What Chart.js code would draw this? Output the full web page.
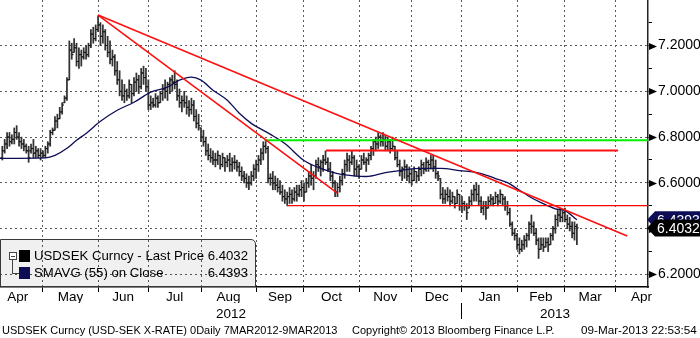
<!DOCTYPE html>
<html>
<head>
<meta charset="utf-8">
<script src="https://cdn.jsdelivr.net/npm/chart.js@4.4.0/dist/chart.umd.min.js"></script>
<style>
  body { margin: 0; background: #fff; }
  #wrap { position: relative; width: 700px; height: 338px; overflow: hidden;
          font-family: 'Liberation Sans', Arial, sans-serif; color: #000; }
  #chart { position: absolute; left: 0; top: 0; }
  #legendBox { position: absolute; left: 0; top: 239px; width: 254px; height: 46px;
               border: 1.5px solid #3a3a3a; border-left-width: 1px; border-top-right-radius: 5px;
               background: rgba(0, 0, 0, 0.06); }
  #legendBox .sq { position: absolute; left: 18px; width: 11px; height: 12px; }
  #legendBox .name { position: absolute; left: 33px; font-size: 13.2px; line-height: 16px; white-space: nowrap; }
  #legendBox .val { position: absolute; right: 7px; font-size: 13.2px; line-height: 16px; }
  #tree { position: absolute; left: 8px; top: 12px; width: 6px; height: 6px; border: 1px solid #444; background: #fff; }
  #tree:after { content: ''; position: absolute; left: 1px; top: 2.5px; width: 4px; height: 1px; background: #444; }
  #treeLine { position: absolute; left: 11px; top: 20px; width: 6px; height: 13px;
              border-left: 1px solid #444; border-bottom: 1px solid #444; }
  #footer span { position: absolute; top: 322px; font-size: 11px; line-height: 16px; white-space: nowrap; }
</style>
</head>
<body>
<div id="wrap">
  <canvas id="chart" width="700" height="338"></canvas>
  <div id="legendBox">
    <div id="tree"></div>
    <div id="treeLine"></div>
  </div>
  <div id="footer">
    <span style="left:2px">USDSEK Curncy (USD-SEK X-RATE) 0Daily 7MAR2012-9MAR2013</span>
    <span style="left:352px">Copyright© 2013 Bloomberg Finance L.P.</span>
    <span style="left:581px;font-size:11.7px">09-Mar-2013 22:53:54</span>
  </div>
</div>
<script>
// Daily USDSEK bars. Day numbers count trading days from Mon 2 Apr 2012 (= 0)
const firstDay = 4;

const opens = [
    6.71, 6.74, 6.77, 6.80, 6.78, 6.79, 6.82, 6.80, 6.78, 6.77,
    6.76, 6.74, 6.74, 6.75, 6.73, 6.74, 6.72, 6.73, 6.72, 6.75,
    6.77, 6.82, 6.83, 6.87, 6.88, 6.91, 6.95, 6.97, 7.05, 7.18,
    7.17, 7.19, 7.13, 7.16, 7.15, 7.17, 7.16, 7.20, 7.25, 7.23,
    7.27, 7.29, 7.24, 7.26, 7.20, 7.17, 7.14, 7.15, 7.09, 7.05,
    7.00, 6.98, 7.00, 6.98, 7.03, 6.99, 7.04, 7.05, 7.02, 7.08,
    7.06, 7.02, 6.94, 6.95, 6.94, 6.97, 6.95, 6.99, 7.01, 7.00,
    7.03, 7.05, 7.04, 7.03, 6.98, 6.95, 6.96, 6.95, 6.93, 6.92,
    6.94, 6.89, 6.86, 6.84, 6.80, 6.78, 6.74, 6.72, 6.71, 6.70,
    6.70, 6.72, 6.68, 6.71, 6.69, 6.70, 6.68, 6.69, 6.69, 6.67,
    6.65, 6.63, 6.62, 6.60, 6.60, 6.63, 6.66, 6.68, 6.70, 6.73,
    6.76, 6.75, 6.62, 6.62, 6.60, 6.59, 6.58, 6.56, 6.54, 6.53,
    6.54, 6.55, 6.53, 6.56, 6.55, 6.57, 6.58, 6.56, 6.60, 6.63,
    6.62, 6.63, 6.68, 6.67, 6.69, 6.70, 6.69, 6.66, 6.63, 6.60,
    6.56, 6.58, 6.61, 6.64, 6.68, 6.70, 6.69, 6.71, 6.66, 6.67,
    6.66, 6.70, 6.69, 6.70, 6.72, 6.75, 6.78, 6.77, 6.80, 6.78,
    6.79, 6.76, 6.78, 6.75, 6.76, 6.71, 6.68, 6.65, 6.66, 6.67,
    6.63, 6.64, 6.61, 6.65, 6.63, 6.66, 6.68, 6.66, 6.69, 6.68,
    6.70, 6.67, 6.64, 6.62, 6.55, 6.53, 6.55, 6.54, 6.52, 6.54,
    6.51, 6.55, 6.50, 6.51, 6.50, 6.49, 6.52, 6.55, 6.57, 6.55,
    6.52, 6.49, 6.50, 6.49, 6.52, 6.53, 6.51, 6.54, 6.52, 6.55,
    6.53, 6.50, 6.47, 6.42, 6.38, 6.37, 6.33, 6.31, 6.33, 6.35,
    6.37, 6.42, 6.41, 6.38, 6.35, 6.31, 6.33, 6.32, 6.34, 6.33,
    6.37, 6.40, 6.44, 6.46, 6.45, 6.47, 6.44, 6.42, 6.41, 6.38,
    6.41
];
const highs = [
    6.76, 6.79, 6.82, 6.82, 6.81, 6.84, 6.85, 6.82, 6.80, 6.79,
    6.77, 6.76, 6.77, 6.79, 6.76, 6.75, 6.75, 6.74, 6.76, 6.78,
    6.83, 6.84, 6.89, 6.90, 6.93, 6.95, 6.98, 7.06, 7.22, 7.21,
    7.23, 7.21, 7.19, 7.18, 7.19, 7.20, 7.21, 7.27, 7.28, 7.29,
    7.33, 7.30, 7.29, 7.27, 7.24, 7.22, 7.18, 7.16, 7.13, 7.09,
    7.05, 7.03, 7.01, 7.05, 7.03, 7.06, 7.08, 7.07, 7.10, 7.11,
    7.10, 7.05, 6.98, 6.97, 6.99, 6.98, 7.00, 7.03, 7.05, 7.04,
    7.06, 7.07, 7.09, 7.05, 7.01, 6.98, 7.00, 6.98, 6.96, 6.97,
    6.96, 6.92, 6.90, 6.84, 6.83, 6.80, 6.77, 6.75, 6.74, 6.73,
    6.74, 6.72, 6.73, 6.71, 6.72, 6.73, 6.71, 6.72, 6.70, 6.69,
    6.67, 6.65, 6.64, 6.63, 6.65, 6.68, 6.70, 6.72, 6.75, 6.78,
    6.79, 6.76, 6.64, 6.65, 6.63, 6.62, 6.61, 6.59, 6.57, 6.56,
    6.58, 6.57, 6.58, 6.59, 6.59, 6.61, 6.60, 6.62, 6.65, 6.68,
    6.65, 6.70, 6.71, 6.70, 6.72, 6.74, 6.71, 6.69, 6.65, 6.61,
    6.60, 6.63, 6.66, 6.70, 6.73, 6.72, 6.74, 6.72, 6.70, 6.68,
    6.72, 6.73, 6.71, 6.73, 6.76, 6.79, 6.80, 6.82, 6.81, 6.82,
    6.81, 6.80, 6.79, 6.80, 6.76, 6.74, 6.70, 6.67, 6.70, 6.68,
    6.67, 6.66, 6.67, 6.65, 6.67, 6.70, 6.69, 6.71, 6.70, 6.72,
    6.72, 6.70, 6.65, 6.62, 6.58, 6.57, 6.58, 6.57, 6.56, 6.54,
    6.57, 6.55, 6.54, 6.52, 6.51, 6.54, 6.57, 6.59, 6.60, 6.59,
    6.54, 6.52, 6.52, 6.54, 6.55, 6.54, 6.56, 6.55, 6.57, 6.55,
    6.54, 6.52, 6.49, 6.43, 6.40, 6.38, 6.36, 6.35, 6.37, 6.38,
    6.43, 6.46, 6.43, 6.40, 6.36, 6.36, 6.36, 6.36, 6.36, 6.38,
    6.41, 6.46, 6.48, 6.49, 6.48, 6.49, 6.46, 6.45, 6.43, 6.43,
    6.42
];
const lows = [
    6.70, 6.73, 6.75, 6.76, 6.77, 6.77, 6.79, 6.76, 6.75, 6.74,
    6.73, 6.69, 6.73, 6.71, 6.71, 6.71, 6.70, 6.71, 6.71, 6.73,
    6.76, 6.81, 6.83, 6.84, 6.88, 6.90, 6.95, 6.96, 7.05, 7.14,
    7.17, 7.11, 7.10, 7.11, 7.14, 7.14, 7.15, 7.19, 7.21, 7.22,
    7.26, 7.20, 7.21, 7.18, 7.15, 7.12, 7.11, 7.07, 7.03, 6.98,
    6.96, 6.95, 6.96, 6.97, 6.95, 6.98, 7.00, 6.99, 7.01, 7.03,
    7.00, 6.92, 6.92, 6.93, 6.93, 6.93, 6.95, 6.96, 6.97, 6.96,
    6.99, 7.00, 7.01, 6.96, 6.93, 6.91, 6.93, 6.90, 6.89, 6.90,
    6.87, 6.84, 6.83, 6.78, 6.76, 6.72, 6.70, 6.69, 6.68, 6.67,
    6.68, 6.66, 6.67, 6.65, 6.67, 6.65, 6.65, 6.66, 6.65, 6.63,
    6.61, 6.60, 6.58, 6.57, 6.59, 6.61, 6.62, 6.65, 6.68, 6.70,
    6.73, 6.60, 6.59, 6.57, 6.57, 6.56, 6.55, 6.52, 6.51, 6.50,
    6.51, 6.51, 6.52, 6.52, 6.54, 6.54, 6.52, 6.56, 6.58, 6.59,
    6.57, 6.62, 6.65, 6.63, 6.65, 6.68, 6.65, 6.61, 6.58, 6.54,
    6.54, 6.56, 6.59, 6.62, 6.65, 6.65, 6.68, 6.63, 6.63, 6.62,
    6.66, 6.68, 6.65, 6.68, 6.70, 6.72, 6.74, 6.75, 6.76, 6.76,
    6.74, 6.74, 6.73, 6.74, 6.70, 6.67, 6.63, 6.61, 6.62, 6.61,
    6.60, 6.59, 6.61, 6.60, 6.61, 6.63, 6.64, 6.65, 6.65, 6.66,
    6.65, 6.62, 6.61, 6.53, 6.51, 6.51, 6.52, 6.50, 6.51, 6.49,
    6.51, 6.48, 6.47, 6.48, 6.44, 6.49, 6.50, 6.52, 6.52, 6.50,
    6.47, 6.46, 6.44, 6.49, 6.50, 6.50, 6.51, 6.50, 6.51, 6.50,
    6.48, 6.46, 6.41, 6.37, 6.35, 6.31, 6.29, 6.30, 6.31, 6.32,
    6.35, 6.38, 6.37, 6.33, 6.27, 6.31, 6.30, 6.32, 6.30, 6.33,
    6.35, 6.38, 6.41, 6.43, 6.43, 6.43, 6.40, 6.39, 6.36, 6.35,
    6.33
];
const closes = [
    6.74, 6.77, 6.80, 6.78, 6.79, 6.82, 6.80, 6.78, 6.77, 6.76,
    6.74, 6.71, 6.75, 6.73, 6.74, 6.72, 6.73, 6.72, 6.75, 6.77,
    6.82, 6.83, 6.87, 6.88, 6.91, 6.94, 6.97, 7.05, 7.18, 7.16,
    7.19, 7.13, 7.16, 7.15, 7.17, 7.16, 7.20, 7.25, 7.23, 7.27,
    7.29, 7.24, 7.26, 7.20, 7.17, 7.14, 7.15, 7.09, 7.05, 7.00,
    6.98, 7.00, 6.98, 7.03, 6.99, 7.04, 7.05, 7.02, 7.08, 7.06,
    7.02, 6.94, 6.95, 6.94, 6.97, 6.95, 6.99, 7.01, 7.00, 7.03,
    7.05, 7.04, 7.03, 6.98, 6.95, 6.96, 6.95, 6.93, 6.92, 6.94,
    6.89, 6.86, 6.85, 6.80, 6.78, 6.74, 6.72, 6.71, 6.70, 6.70,
    6.72, 6.68, 6.71, 6.69, 6.70, 6.68, 6.69, 6.69, 6.67, 6.65,
    6.63, 6.62, 6.60, 6.60, 6.63, 6.66, 6.68, 6.70, 6.73, 6.76,
    6.75, 6.62, 6.62, 6.60, 6.59, 6.58, 6.56, 6.54, 6.53, 6.54,
    6.55, 6.53, 6.56, 6.55, 6.57, 6.58, 6.56, 6.60, 6.63, 6.62,
    6.63, 6.68, 6.67, 6.69, 6.70, 6.69, 6.66, 6.63, 6.60, 6.56,
    6.58, 6.61, 6.64, 6.68, 6.70, 6.69, 6.71, 6.66, 6.67, 6.66,
    6.70, 6.69, 6.70, 6.72, 6.75, 6.78, 6.77, 6.80, 6.78, 6.79,
    6.76, 6.78, 6.75, 6.76, 6.71, 6.68, 6.65, 6.66, 6.67, 6.63,
    6.64, 6.61, 6.65, 6.63, 6.66, 6.68, 6.66, 6.69, 6.68, 6.70,
    6.67, 6.64, 6.63, 6.55, 6.53, 6.55, 6.54, 6.52, 6.54, 6.51,
    6.55, 6.50, 6.51, 6.50, 6.47, 6.52, 6.55, 6.57, 6.55, 6.52,
    6.49, 6.50, 6.49, 6.52, 6.53, 6.51, 6.54, 6.52, 6.55, 6.53,
    6.50, 6.47, 6.42, 6.38, 6.37, 6.33, 6.31, 6.33, 6.35, 6.37,
    6.42, 6.41, 6.38, 6.35, 6.31, 6.33, 6.32, 6.34, 6.33, 6.37,
    6.40, 6.44, 6.46, 6.45, 6.47, 6.44, 6.42, 6.41, 6.38, 6.41,
    6.4032
];

// SMAVG (55) on close, sampled along the curve
const smaDays = [3, 22, 26, 31, 35, 39, 45, 52, 59, 66, 73, 78, 83, 87, 92, 98, 103, 108,
    116, 122, 130, 137, 144, 150, 156, 164, 170, 179, 187, 195, 204, 210, 215, 219,
    225, 229, 235, 239, 244];
const smaValues = [6.707, 6.709, 6.720, 6.751, 6.786, 6.816, 6.869, 6.917, 6.952, 6.996,
    7.018, 7.049, 7.062, 7.049, 7.005, 6.961, 6.904, 6.860, 6.812, 6.772, 6.698, 6.663,
    6.641, 6.632, 6.628, 6.645, 6.654, 6.663, 6.663, 6.654, 6.641, 6.619, 6.601, 6.575,
    6.535, 6.514, 6.487, 6.479, 6.4393];

// drawn-in trend lines and levels: [day, price] end points
const resistanceLong = [[44, 7.333], [265, 6.368]];
const resistanceShort = [[44, 7.333], [143.8, 6.556]];
const levelGreen = [[113.7, 6.786], [273.7, 6.786]];
const levelRedUpper = [[139.2, 6.742], [261.2, 6.742]];
const levelRedLower = [[122.9, 6.501], [273.7, 6.501]];

// time axis: first trading day of each month, and month names
const monthBounds = [0, 21, 44, 65, 87, 110, 130, 153, 175, 196, 219, 239, 260, 282];
const monthNames = ['Apr', 'May', 'Jun', 'Jul', 'Aug', 'Sep', 'Oct', 'Nov', 'Dec', 'Jan', 'Feb', 'Mar', 'Apr'];
const yearStart = 196;
const yearNames = ['2012', '2013'];

// price axis
const priceTicks = [6.2, 6.3, 6.4, 6.5, 6.6, 6.7, 6.8, 6.9, 7.0, 7.1, 7.2, 7.3];
const seriesNames = ['USDSEK Curncy - Last Price', 'SMAVG (55) on Close'];

const xMin = 3.04, xMax = 273.7;
const yMin = 6.1454, yMax = 7.3987;

const FONT = "'Liberation Sans', Arial, sans-serif";
const NAVY = '#0d0d55';
const RED = '#ff1010';

Chart.defaults.font.family = FONT;
Chart.defaults.color = '#000';

const isMajor = v => Math.round(v * 10) % 2 === 0;
const monthMids = monthBounds.slice(0, -1).map((b, i) => (b + monthBounds[i + 1]) / 2);
const yearTicks = [
    { value: (xMin + yearStart) / 2, label: yearNames[0] },
    { value: yearStart, label: '' },
    { value: (yearStart + xMax) / 2, label: yearNames[1] }
];

const days = closes.map((c, i) => firstDay + i);
const toPoints = pairs => pairs.map(p => ({ x: p[0], y: p[1] }));

// keep the plot area flush with the canvas edges
const noPadding = s => { s.paddingLeft = 0; s.paddingRight = 0; s.paddingTop = 0; s.paddingBottom = 0; };

// arrow heads on the price axis and the last-value tags
const axisMarks = {
    id: 'axisMarks',
    afterDraw(chart) {
        const { ctx, chartArea, scales: { y } } = chart;
        const right = chartArea.right;
        ctx.save();
        y.ticks.forEach(t => {
            if (!isMajor(t.value)) return;
            const py = Math.round(y.getPixelForValue(t.value)) + 0.5;
            ctx.beginPath();
            ctx.moveTo(right + 1, py - 3.5);
            ctx.lineTo(right + 9, py);
            ctx.lineTo(right + 1, py + 3.5);
            ctx.closePath();
            ctx.fillStyle = '#000';
            ctx.fill();
        });

        const tag = (value, color) => {
            const py = y.getPixelForValue(value);
            ctx.beginPath();
            ctx.moveTo(right - 1, py);
            ctx.lineTo(right + 7, py - 8.5);
            ctx.lineTo(chart.width, py - 8.5);
            ctx.lineTo(chart.width, py + 8.5);
            ctx.lineTo(right + 7, py + 8.5);
            ctx.closePath();
            ctx.fillStyle = color;
            ctx.fill();
            ctx.fillStyle = '#fff';
            ctx.font = '14px ' + FONT;
            ctx.textBaseline = 'middle';
            ctx.textAlign = 'left';
            ctx.fillText(value.toFixed(4), right + 9, py + 1);
        };
        tag(smaValues[smaValues.length - 1], NAVY);
        tag(closes[closes.length - 1], '#000');
        ctx.restore();
    }
};

new Chart(document.getElementById('chart'), {
    type: 'line',
    data: {
        datasets: [
            {
                type: 'bar',
                order: 5,
                xAxisID: 'x', yAxisID: 'y',
                data: days.map((d, i) => ({ x: d, y: [lows[i], highs[i]] })),
                backgroundColor: '#333',
                borderWidth: 0,
                barThickness: 1.1,
                grouped: false
            },
            {
                // open ticks
                order: 4,
                xAxisID: 'x', yAxisID: 'y',
                data: days.map((d, i) => ({ x: d - 0.4, y: opens[i] })),
                showLine: false,
                pointStyle: 'line',
                pointRadius: 0.9,
                pointBorderWidth: 1,
                pointBorderColor: '#111'
            },
            {
                // close ticks
                order: 4,
                xAxisID: 'x', yAxisID: 'y',
                data: days.map((d, i) => ({ x: d + 0.4, y: closes[i] })),
                showLine: false,
                pointStyle: 'line',
                pointRadius: 0.9,
                pointBorderWidth: 1,
                pointBorderColor: '#111'
            },
            {
                order: 3,
                xAxisID: 'x', yAxisID: 'y',
                data: smaDays.map((d, i) => ({ x: d, y: smaValues[i] })),
                borderColor: NAVY,
                borderWidth: 1.3,
                pointRadius: 0,
                cubicInterpolationMode: 'monotone'
            },
            { order: 1, xAxisID: 'x', yAxisID: 'y', data: toPoints(resistanceLong), borderColor: RED, borderWidth: 1.6, pointRadius: 0 },
            { order: 1, xAxisID: 'x', yAxisID: 'y', data: toPoints(resistanceShort), borderColor: RED, borderWidth: 1.6, pointRadius: 0 },
            { order: 1, xAxisID: 'x', yAxisID: 'y', data: toPoints(levelGreen), borderColor: '#00f000', borderWidth: 2, pointRadius: 0 },
            { order: 1, xAxisID: 'x', yAxisID: 'y', data: toPoints(levelRedUpper), borderColor: RED, borderWidth: 2, pointRadius: 0 },
            { order: 1, xAxisID: 'x', yAxisID: 'y', data: toPoints(levelRedLower), borderColor: '#ff0000', borderWidth: 1.2, pointRadius: 0 }
        ]
    },
    options: {
        responsive: false,
        animation: false,
        events: [],
        layout: { autoPadding: false, padding: { left: 0, right: 0, top: 0, bottom: 17 } },
        plugins: { legend: { display: false }, tooltip: { enabled: false } },
        scales: {
            x: {
                type: 'linear', axis: 'x', position: 'bottom', weight: 0,
                min: xMin, max: xMax, offset: false,
                afterBuildTicks: s => { s.ticks = monthBounds.filter(v => v > xMin && v < xMax).map(v => ({ value: v })); },
                afterFit: s => { s.height = 0; noPadding(s); },
                ticks: { display: false },
                grid: { color: '#5a5a5a', lineWidth: 1, offset: false, drawTicks: true, tickLength: 5, tickColor: '#000' },
                border: { display: true, color: '#000', width: 1.5, dash: [2, 3] }
            },
            xMonth: {
                type: 'linear', axis: 'x', position: 'bottom', weight: 1,
                min: xMin, max: xMax, offset: false,
                afterBuildTicks: s => { s.ticks = monthMids.map(v => ({ value: v })); },
                afterFit: s => { s.height = 16; noPadding(s); },
                grid: { display: false, drawTicks: false },
                border: { display: false },
                ticks: { autoSkip: false, maxRotation: 0, padding: 2, font: { size: 13.5 },
                         callback: (v, i) => monthNames[i] }
            },
            xYear: {
                type: 'linear', axis: 'x', position: 'bottom', weight: 2,
                min: xMin, max: xMax, offset: false,
                afterBuildTicks: s => { s.ticks = yearTicks.map(t => ({ value: t.value })); },
                afterFit: s => { s.height = 18; noPadding(s); },
                grid: { display: true, drawOnChartArea: false, drawTicks: true, tickLength: 16, lineWidth: 1,
                        tickColor: c => (c.tick && c.tick.value === yearStart) ? '#000' : 'rgba(0,0,0,0)' },
                border: { display: false },
                ticks: { autoSkip: false, maxRotation: 0, padding: -13, font: { size: 13.5 },
                         callback: (v, i) => yearTicks[i].label }
            },
            y: {
                position: 'right',
                min: yMin, max: yMax,
                afterBuildTicks: s => { s.ticks = priceTicks.map(v => ({ value: v })); },
                afterFit: s => { s.width = 52; noPadding(s); },
                grid: { color: c => (c.tick && isMajor(c.tick.value)) ? '#5a5a5a' : 'rgba(0,0,0,0)',
                        drawTicks: true, tickLength: 4, tickColor: '#000' },
                border: { display: true, color: '#222', width: 1.5, dash: [2, 3] },
                ticks: { autoSkip: false, padding: 6, font: { size: 14 },
                         callback: v => isMajor(v) ? v.toFixed(4) : '' }
            }
        }
    },
    plugins: [axisMarks]
});

// legend rows with the latest values
const legendBox = document.getElementById('legendBox');
const legendColors = ['#000', NAVY];
const legendValues = [closes[closes.length - 1], smaValues[smaValues.length - 1]];
seriesNames.forEach((name, i) => {
    const top = 10 + i * 16.5;
    legendBox.insertAdjacentHTML('beforeend',
        `<div class="sq" style="top:${top}px;background:${legendColors[i]}"></div>` +
        `<div class="name" style="top:${top - 2}px">${name}</div>` +
        `<div class="val" style="top:${top - 2}px">${legendValues[i].toFixed(4)}</div>`);
});
</script>
</body>
</html>
